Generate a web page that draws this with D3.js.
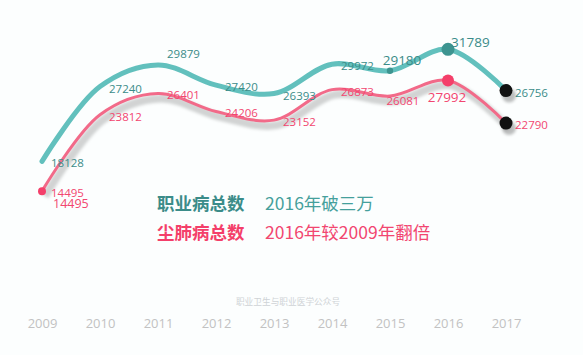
<!DOCTYPE html>
<html>
<head>
<meta charset="utf-8">
<script src="https://cdn.jsdelivr.net/npm/d3@7"></script>
<style>
  html, body { margin: 0; padding: 0; background: #fcfefe; }
  svg { display: block; }
</style>
</head>
<body>
<div id="chart"></div>
<script>
//// data
const years = [2009, 2010, 2011, 2012, 2013, 2014, 2015, 2016, 2017];
const occTotal = [18128, 27240, 29879, 27420, 26393, 29972, 29180, 31789, 26756];   // 职业病总数
const pneumo = [14495, 23812, 26401, 24206, 23152, 26873, 26081, 27992, 22790];     // 尘肺病总数
const headlines = ['职业病总数', '尘肺病总数'];
const captions = ['2016年破三万', '2016年较2009年翻倍'];
const watermark = '职业卫生与职业医学公众号';

//// label placement per point: r = right, a = above, b = below
const occPlace = ['r', 'r', 'ar', 'r', 'r', 'r', 'a', 'ar', 'r'];
const pnPlace = ['r', 'r', 'r', 'r', 'r', 'r', 'b', 'b', 'r'];

const W = 583, H = 355;
const teal = '#62c0bd', tealDark = '#3b8c89', tealDot = '#3d9490';
const pink = '#f26a89', pinkText = '#f24670', pinkDot = '#f43f6a';

const svg = d3.select('#chart').append('svg')
	.attr('width', W)
	.attr('height', H)
	.style('font-family', '"Open Sans", "Noto Sans", sans-serif');

svg.append('rect').attr('width', W).attr('height', H).attr('fill', '#fcfefe');

const defs = svg.append('defs');
defs.append('filter').attr('id', 'blur')
	.attr('x', '-20%').attr('y', '-20%').attr('width', '140%').attr('height', '140%')
	.append('feGaussianBlur').attr('stdDeviation', 1.8);

const x = d3.scaleLinear().domain([2009, 2017]).range([42, 506]);
const y = d3.scaleLinear().domain([0, 37800]).range([310, 0]);

const line = d3.line()
	.x((d, i) => x(years[i]))
	.y(d => y(d))
	.curve(d3.curveCatmullRom.alpha(0.5));

//// shadows
svg.append('path')
	.attr('d', line(pneumo))
	.attr('transform', 'translate(3,5)')
	.attr('fill', 'none')
	.attr('stroke', '#000')
	.attr('stroke-opacity', 0.17)
	.attr('stroke-width', 8)
	.attr('filter', 'url(#blur)');

[occTotal, pneumo].forEach(series => {
	svg.append('circle')
		.attr('cx', x(2017) + 3)
		.attr('cy', y(series[8]) + 5)
		.attr('r', 7)
		.attr('fill', '#000')
		.attr('opacity', 0.25)
		.attr('filter', 'url(#blur)');
});

//// lines
svg.append('path')
	.attr('d', line(occTotal))
	.attr('fill', 'none')
	.attr('stroke', teal)
	.attr('stroke-width', 5)
	.attr('stroke-linecap', 'round');

svg.append('path')
	.attr('d', line(pneumo))
	.attr('fill', 'none')
	.attr('stroke', pink)
	.attr('stroke-width', 3)
	.attr('stroke-linecap', 'round');

//// dots
const dot = (yr, v, r, c) => svg.append('circle')
	.attr('cx', x(yr)).attr('cy', y(v)).attr('r', r).attr('fill', c);

dot(2015, occTotal[6], 3.2, tealDot);
dot(2016, occTotal[7], 6.5, tealDot);
dot(2017, occTotal[8], 6.5, '#111');
dot(2009, pneumo[0], 4, pinkDot);
dot(2016, pneumo[7], 6, pinkDot);
dot(2017, pneumo[8], 6.5, '#111');

//// value labels
const fmt = d3.format('d');
const addLabels = (series, place, color, big) => {
	series.forEach((v, i) => {
		const px = x(years[i]), py = y(v);
		const isBig = big.includes(years[i]);
		const t = svg.append('text')
			.text(fmt(v))
			.attr('fill', color)
			.attr('font-size', isBig ? 13.5 : 11.5)
			.attr('dominant-baseline', 'central');
		const p = place[i];
		if (p === 'r') {
			t.attr('x', px + 9).attr('y', py + 1.5);
		} else if (p === 'ar') {
			t.attr('x', px + (isBig ? 3 : 9)).attr('y', py - (isBig ? 7 : 11));
		} else if (p === 'a') {
			t.attr('x', px + 12).attr('y', py - 11).attr('text-anchor', 'middle');
		} else {
			t.attr('x', px + (isBig ? -1 : 13)).attr('y', py + (isBig ? 17 : 4)).attr('text-anchor', 'middle');
		}
	});
};
addLabels(occTotal, occPlace, tealDark, [2015, 2016]);
addLabels(pneumo, pnPlace, pinkText, [2016]);

//// the duplicated 2009 label in the reference
svg.append('text')
	.text(fmt(pneumo[0]))
	.attr('x', x(2009) + 11)
	.attr('y', y(pneumo[0]) + 12.5)
	.attr('fill', pinkText)
	.attr('font-size', 12.5)
	.attr('dominant-baseline', 'central');

//// headline block
const colors = [tealDark, pinkDot];
const capColors = ['#45a09c', pinkText];
headlines.forEach((h, i) => {
	const ty = 202 + i * 29.5;
	svg.append('text')
		.text(h)
		.attr('x', 157).attr('y', ty)
		.attr('fill', colors[i])
		.attr('font-size', 17.5)
		.attr('font-weight', 'bold')
		.attr('font-family', '"Noto Sans CJK SC", sans-serif')
		.attr('dominant-baseline', 'central');
	svg.append('text')
		.text(captions[i])
		.attr('x', 265).attr('y', ty)
		.attr('fill', capColors[i])
		.attr('font-size', 17.5)
		.attr('font-family', '"Noto Sans CJK SC", sans-serif')
		.attr('dominant-baseline', 'central');
});

svg.append('text')
	.text(watermark)
	.attr('x', 288).attr('y', 301)
	.attr('text-anchor', 'middle')
	.attr('fill', '#cfd3d6')
	.attr('font-size', 8.7)
	.attr('font-family', '"Noto Sans CJK SC", sans-serif')
	.attr('dominant-baseline', 'central');

//// year axis
const axis = d3.axisBottom(x)
	.tickValues(years)
	.tickFormat(d3.format('d'))
	.tickSize(0)
	.tickPadding(0);

const gx = svg.append('g')
	.attr('transform', 'translate(0,319)')
	.call(axis);
gx.select('.domain').remove();
gx.selectAll('text')
	.attr('fill', '#c2c2c2')
	.attr('font-size', 13)
	.attr('font-family', '"Open Sans", sans-serif')
	.attr('dy', '0.71em');
</script>
</body>
</html>
